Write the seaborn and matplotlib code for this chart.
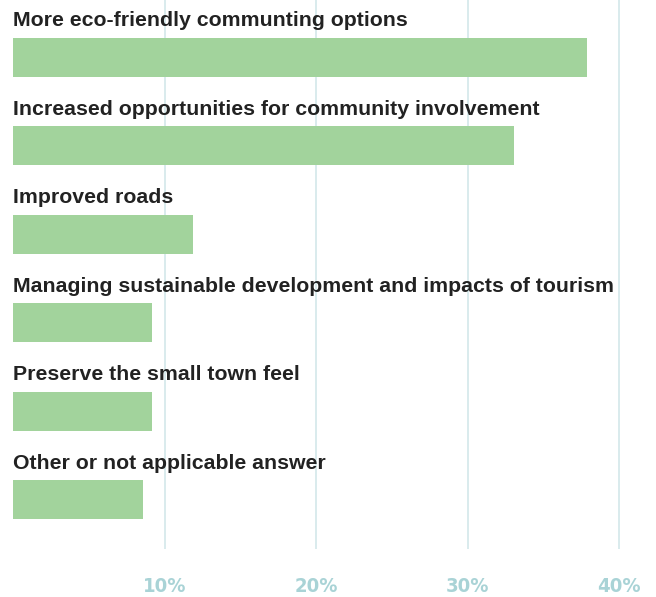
import pandas as pd
import matplotlib
matplotlib.use('Agg')
import matplotlib.pyplot as plt
from matplotlib import font_manager
import seaborn as sns

# answers and share of respondents (%)
answers = [
    'More eco-friendly communting options',
    'Increased opportunities for community involvement',
    'Improved roads',
    'Managing sustainable development and impacts of tourism',
    'Preserve the small town feel',
    'Other or not applicable answer',
]
shares = [37.9, 33.1, 11.9, 9.2, 9.2, 8.6]
tick_values = [10, 20, 30, 40]
tick_labels = ['10%', '20%', '30%', '40%']

bar_color = '#a2d39c'
grid_color = '#d3e8ea'
tick_color = '#a9d3d6'

df = pd.DataFrame({'answer': answers, 'share': shares})

sns.set_theme(style='white')
plt.rcParams['font.family'] = ['Liberation Sans', 'DejaVu Sans']

# narrow font for the tick labels, whatever is installed
names = {f.name for f in font_manager.fontManager.ttflist}
narrow = [f for f in ['Liberation Sans Narrow', 'DejaVu Sans'] if f in names]

fig = plt.figure(figsize=(6.56, 5.97), dpi=100)
ax = fig.add_axes([13 / 656, 48 / 597, 643 / 656, 549 / 597])

for v in tick_values:
    ax.axvline(v, color=grid_color, lw=1.2, zorder=0)

bar_h = 0.44
sns.barplot(data=df, x='share', y='answer', orient='h', color=bar_color,
            width=bar_h, saturation=1, linewidth=0, ax=ax, zorder=2)

for i, name in enumerate(answers):
    ax.text(0, i - bar_h / 2 - 0.13, name, ha='left', va='baseline',
            fontsize=15.3, fontweight='bold', color='#222222')

ax.set_xlim(0, 643 / 15.15)
ax.set_ylim(5.557, -0.646)
ax.set_xticks(tick_values)
ax.set_xticklabels(tick_labels, family=narrow, fontstretch='condensed',
                   fontsize=14.5, color=tick_color, fontweight='bold')
ax.tick_params(axis='x', length=0, pad=20)
ax.set_yticks([])
ax.set_xlabel('')
ax.set_ylabel('')
for s in ax.spines.values():
    s.set_visible(False)

plt.savefig('out.png', dpi=100)
plt.close()
